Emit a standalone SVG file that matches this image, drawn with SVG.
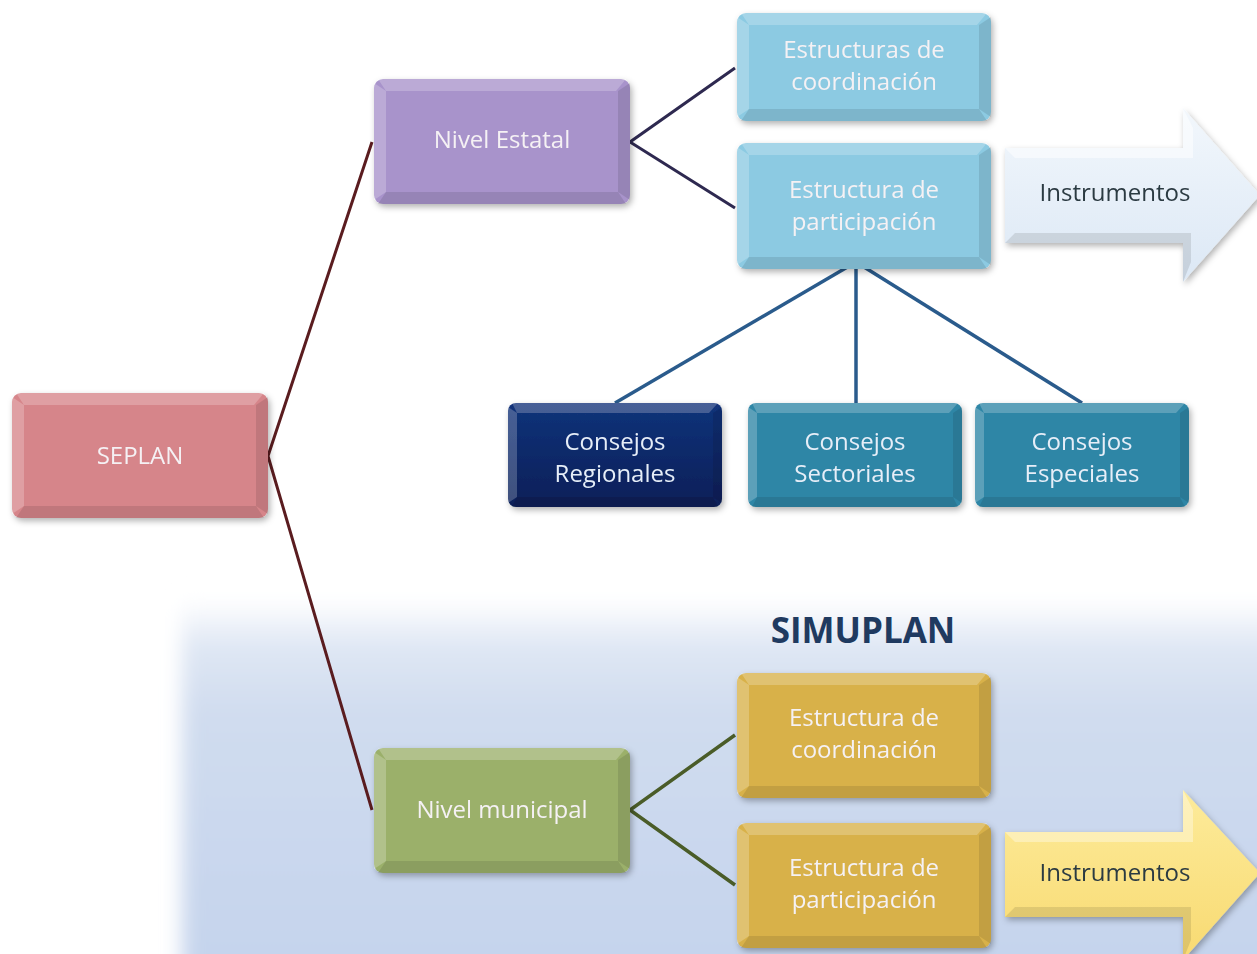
<svg xmlns="http://www.w3.org/2000/svg" width="1257" height="954" viewBox="0 0 1257 954">
<defs>
  <filter id="sh" x="-10%" y="-10%" width="125%" height="130%">
    <feDropShadow dx="2" dy="3" stdDeviation="3" flood-color="#000" flood-opacity="0.3"/>
  </filter>
  <filter id="blur" x="-5%" y="-20%" width="110%" height="140%">
    <feGaussianBlur stdDeviation="10"/>
  </filter>
  <linearGradient id="band" x1="0" y1="0" x2="0" y2="1">
    <stop offset="0" stop-color="#ffffff"/>
    <stop offset="0.12" stop-color="#dfe7f4"/>
    <stop offset="0.3" stop-color="#d0dcef"/>
    <stop offset="1" stop-color="#c4d3ec"/>
  </linearGradient>
  <linearGradient id="gBlueArrow" x1="0" y1="0" x2="0" y2="1">
    <stop offset="0" stop-color="#f2f7fc"/>
    <stop offset="1" stop-color="#dce8f5"/>
  </linearGradient>
  <linearGradient id="gYellowArrow" x1="0" y1="0" x2="0" y2="1">
    <stop offset="0" stop-color="#fdeb9a"/>
    <stop offset="1" stop-color="#f8da72"/>
  </linearGradient>
  <linearGradient id="gNavy" x1="0" y1="0" x2="0" y2="1">
    <stop offset="0" stop-color="#12337a"/>
    <stop offset="1" stop-color="#0a1f58"/>
  </linearGradient>
  <style>
    .lbl{font-family:"Open Sans",Lato,"Liberation Sans",sans-serif;font-size:24px;fill:#f5f1f4;text-anchor:middle}
    .dark{fill:#2c3a42}
    .title{font-family:"Open Sans",Lato,"Liberation Sans",sans-serif;font-size:35px;font-weight:bold;fill:#1f3a60;text-anchor:middle}
    .hl{fill:#ffffff;opacity:0.22}
    .lo{fill:#000000;opacity:0.10}
    .c1{fill:none;stroke:#5a1c1f;stroke-width:3}
    .c2{fill:none;stroke:#2e2950;stroke-width:3}
    .c3{fill:none;stroke:#2a5b8c;stroke-width:3.5}
    .c4{fill:none;stroke:#4a5c28;stroke-width:3.5}
  </style>
</defs>

<rect width="1257" height="954" fill="#ffffff"/>
<!-- SIMUPLAN band -->
<rect x="182" y="600" width="1100" height="380" fill="url(#band)" filter="url(#blur)"/>
<text class="title" x="863" y="643">SIMUPLAN</text>

<g id="connectors">
  <polyline class="c1" points="372,142 268,456 372,810"/>
  <polyline class="c2" points="735,68 630,142 735,208"/>
  <polyline class="c4" points="735,735 630,810 735,885"/>
  <line class="c3" x1="856" y1="262" x2="615" y2="403"/>
  <line class="c3" x1="856" y1="262" x2="856" y2="403"/>
  <line class="c3" x1="856" y1="262" x2="1082" y2="403"/>
</g>

<g id="seplan" filter="url(#sh)">
  <rect x="12" y="393" width="256" height="125" rx="9" fill="#d6858a"/>
  <polygon class="hl" points="16,393 264,393 254,405 24,405"/>
  <polygon class="hl" points="12,397 24,405 24,506 12,514"/>
  <polygon class="lo" points="268,397 268,514 256,506 256,405"/>
  <polygon class="lo" points="16,518 24,506 256,506 264,518"/>
  <text class="lbl" x="140" y="464">SEPLAN</text>
</g>

<g id="nivel-estatal" filter="url(#sh)">
  <rect x="374" y="79" width="256" height="125" rx="9" fill="#a893cb"/>
  <polygon class="hl" points="378,79 626,79 616,91 386,91"/>
  <polygon class="hl" points="374,83 386,91 386,192 374,200"/>
  <polygon class="lo" points="630,83 630,200 618,192 618,91"/>
  <polygon class="lo" points="378,204 386,192 618,192 626,204"/>
  <text class="lbl" x="502" y="148">Nivel Estatal</text>
</g>

<g id="estructuras-coordinacion" filter="url(#sh)">
  <rect x="737" y="13" width="254" height="108" rx="9" fill="#8ccae2"/>
  <polygon class="hl" points="741,13 987,13 977,25 749,25"/>
  <polygon class="hl" points="737,17 749,25 749,109 737,117"/>
  <polygon class="lo" points="991,17 991,117 979,109 979,25"/>
  <polygon class="lo" points="741,121 749,109 979,109 987,121"/>
  <text class="lbl" x="864" y="58">Estructuras de</text>
  <text class="lbl" x="864" y="90">coordinación</text>
</g>

<g id="estructura-participacion" filter="url(#sh)">
  <rect x="737" y="143" width="254" height="126" rx="9" fill="#8ccae2"/>
  <polygon class="hl" points="741,143 987,143 977,155 749,155"/>
  <polygon class="hl" points="737,147 749,155 749,257 737,265"/>
  <polygon class="lo" points="991,147 991,265 979,257 979,155"/>
  <polygon class="lo" points="741,269 749,257 979,257 987,269"/>
  <text class="lbl" x="864" y="198">Estructura de</text>
  <text class="lbl" x="864" y="230">participación</text>
</g>

<g id="instrumentos-estatal" filter="url(#sh)">
  <polygon points="1005,148 1183,148 1183,108 1260,195 1183,282 1183,243 1005,243" fill="url(#gBlueArrow)"/>
  <polygon class="lo" points="1005,243 1015,233 1191,233 1191,262 1183,282 1183,243" opacity="0.06"/>
  <polygon fill="#ffffff" opacity="0.5" points="1005,148 1183,148 1183,108 1193,128 1193,158 1015,158"/>
  <text class="lbl dark" x="1115" y="201">Instrumentos</text>
</g>

<g id="consejos-regionales" filter="url(#sh)">
  <rect x="508" y="403" width="214" height="104" rx="8" fill="url(#gNavy)"/>
  <polygon class="hl" points="512,403 718,403 709,413 517,413" opacity="0.15"/>
  <polygon class="hl" points="508,407 517,413 517,497 508,503" opacity="0.12"/>
  <polygon class="lo" points="722,407 722,503 713,497 713,413" opacity="0.2"/>
  <polygon class="lo" points="512,507 517,497 713,497 718,507" opacity="0.2"/>
  <text class="lbl" x="615" y="450" style="fill:#e6eef8">Consejos</text>
  <text class="lbl" x="615" y="482" style="fill:#e6eef8">Regionales</text>
</g>

<g id="consejos-sectoriales" filter="url(#sh)">
  <rect x="748" y="403" width="214" height="104" rx="8" fill="#2f86a6"/>
  <polygon class="hl" points="752,403 958,403 949,413 757,413" opacity="0.15"/>
  <polygon class="hl" points="748,407 757,413 757,497 748,503" opacity="0.12"/>
  <polygon class="lo" points="962,407 962,503 953,497 953,413" opacity="0.15"/>
  <polygon class="lo" points="752,507 757,497 953,497 958,507" opacity="0.15"/>
  <text class="lbl" x="855" y="450" style="fill:#e6eef8">Consejos</text>
  <text class="lbl" x="855" y="482" style="fill:#e6eef8">Sectoriales</text>
</g>

<g id="consejos-especiales" filter="url(#sh)">
  <rect x="975" y="403" width="214" height="104" rx="8" fill="#2f86a6"/>
  <polygon class="hl" points="979,403 1185,403 1176,413 984,413" opacity="0.15"/>
  <polygon class="hl" points="975,407 984,413 984,497 975,503" opacity="0.12"/>
  <polygon class="lo" points="1189,407 1189,503 1180,497 1180,413" opacity="0.15"/>
  <polygon class="lo" points="979,507 984,497 1180,497 1185,507" opacity="0.15"/>
  <text class="lbl" x="1082" y="450" style="fill:#e6eef8">Consejos</text>
  <text class="lbl" x="1082" y="482" style="fill:#e6eef8">Especiales</text>
</g>

<g id="nivel-municipal" filter="url(#sh)">
  <rect x="374" y="748" width="256" height="125" rx="9" fill="#9bb06b"/>
  <polygon class="hl" points="378,748 626,748 616,760 386,760"/>
  <polygon class="hl" points="374,752 386,760 386,861 374,869"/>
  <polygon class="lo" points="630,752 630,869 618,861 618,760"/>
  <polygon class="lo" points="378,873 386,861 618,861 626,873"/>
  <text class="lbl" x="502" y="818">Nivel municipal</text>
</g>

<g id="estructura-coordinacion-mun" filter="url(#sh)">
  <rect x="737" y="673" width="254" height="125" rx="9" fill="#d8b14a"/>
  <polygon class="hl" points="741,673 987,673 977,685 749,685"/>
  <polygon class="hl" points="737,677 749,685 749,786 737,794"/>
  <polygon class="lo" points="991,677 991,794 979,786 979,685"/>
  <polygon class="lo" points="741,798 749,786 979,786 987,798"/>
  <text class="lbl" x="864" y="726">Estructura de</text>
  <text class="lbl" x="864" y="758">coordinación</text>
</g>

<g id="estructura-participacion-mun" filter="url(#sh)">
  <rect x="737" y="823" width="254" height="125" rx="9" fill="#d8b14a"/>
  <polygon class="hl" points="741,823 987,823 977,835 749,835"/>
  <polygon class="hl" points="737,827 749,835 749,936 737,944"/>
  <polygon class="lo" points="991,827 991,944 979,936 979,835"/>
  <polygon class="lo" points="741,948 749,936 979,936 987,948"/>
  <text class="lbl" x="864" y="876">Estructura de</text>
  <text class="lbl" x="864" y="908">participación</text>
</g>

<g id="instrumentos-municipal" filter="url(#sh)">
  <polygon points="1005,832 1183,832 1183,790 1260,873 1183,960 1183,917 1005,917" fill="url(#gYellowArrow)"/>
  <polygon fill="#ffffff" opacity="0.35" points="1005,832 1183,832 1183,790 1193,810 1193,842 1015,842"/>
  <polygon class="lo" points="1005,917 1015,907 1191,907 1191,940 1183,960 1183,917" opacity="0.08"/>
  <text class="lbl dark" x="1115" y="881">Instrumentos</text>
</g>
</svg>
